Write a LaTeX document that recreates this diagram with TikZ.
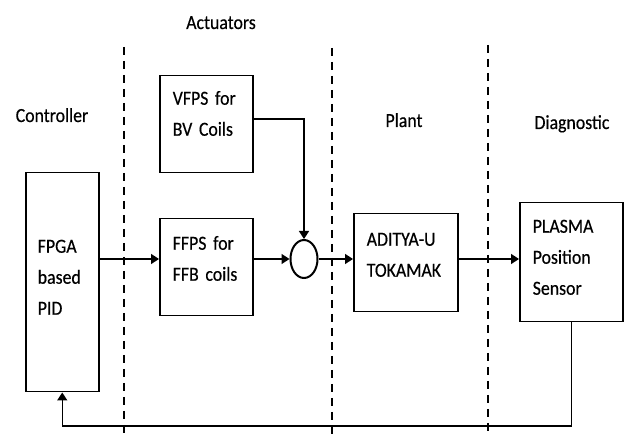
\documentclass[tikz,border=0pt]{standalone}
\usepackage{fontspec}
\setmainfont[FakeStretch=0.89, WordSpace=0.85, FakeBold=0.4]{Carlito}
\usepackage{tikz}
\usetikzlibrary{arrows.meta, positioning, shapes.geometric}

\begin{document}
\begin{tikzpicture}[
  x=1pt, y=-1pt,
  blk/.style={draw, line width=1.5pt, anchor=north west, align=left, inner xsep=13pt, inner ysep=0pt},
  head/.style={anchor=base},
  sep/.style={line width=1.2pt, dash pattern=on 8pt off 6pt},
  arr/.style={-{Triangle[length=8pt, width=10pt]}, line width=1.5pt},
  font=\fontsize{20}{31}\selectfont
]
\useasboundingbox (0,0) rectangle (630,435);
\foreach \x/\y in {124/47, 332/48, 488/45}
  \draw[sep] (\x,\y) -- (\x,435);

\node[head] (ctrl) at (52,122) {Controller};
\node[head] (act) at (221,29) {Actuators};
\node[head] (plant) at (404,127) {Plant};
\node[head] (diag) at (572,129) {Diagnostic};

\node[blk, inner xsep=12pt, text width=49pt, text height=80pt, text depth=139pt] (fpga) at (25,172) {FPGA\\based\\PID};
\node[blk, text width=67pt, text height=29pt, text depth=68pt] (vfps) at (159,75) {VFPS for\\BV Coils};
\node[blk, text width=67pt, text height=31pt, text depth=66pt] (ffps) at (159,218) {FFPS for\\FFB coils};
\node[draw, ellipse, line width=2pt, minimum width=27pt, minimum height=38pt, inner sep=0pt] (sum) at (304,259) {};
\node[blk, text width=78pt, text height=32pt, text depth=66pt] (aditya) at (353,213) {ADITYA-U\\TOKAMAK};
\node[blk, text width=77pt, text height=30pt, text depth=89pt] (plasma) at (519,202) {PLASMA\\Position\\Sensor};
\coordinate (fb) at (0,426);

\draw[arr] (fpga.east |- sum) -- (ffps.west |- sum);
\draw[arr] (ffps.east |- sum) -- (sum.west);
\draw[arr] ([yshift=5pt]vfps.east) -| (sum.north);
\draw[arr] (sum.east) -- (aditya.west |- sum);
\draw[arr] (aditya.east |- sum) -- (plasma.west |- sum);
\draw[arr] (plasma.south) -- (plasma.south |- fb) -| (fpga.south);
\end{tikzpicture}
\end{document}
